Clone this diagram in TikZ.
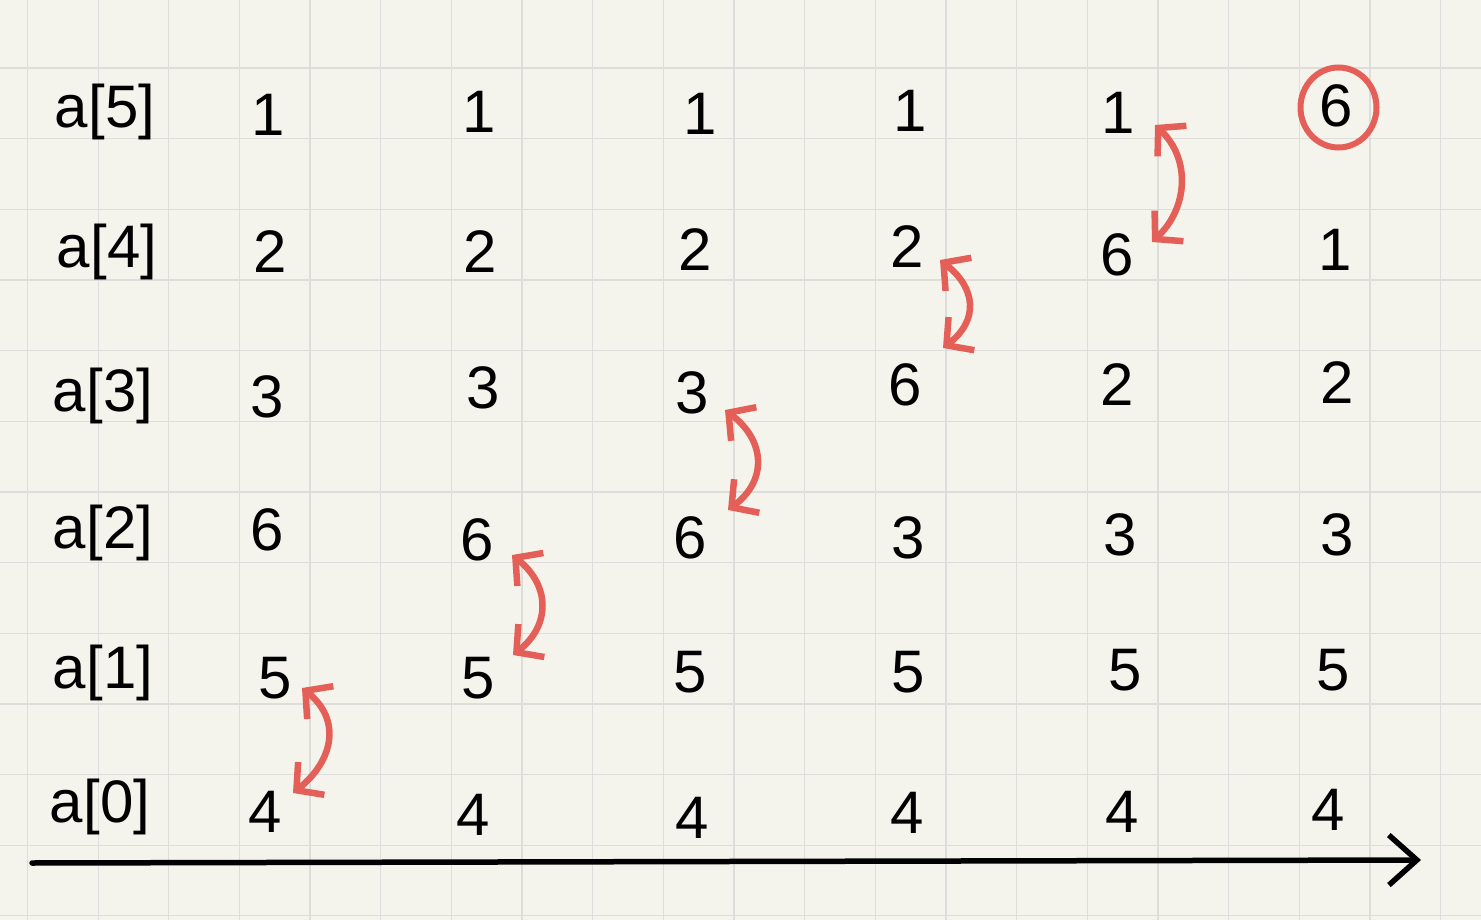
\documentclass[tikz,border=0pt]{standalone}
\usepackage{fontspec}
\setmainfont{Liberation Sans}
\usetikzlibrary{arrows.meta,shapes.geometric}
\definecolor{paper}{HTML}{F5F4EC}
\definecolor{gridc}{HTML}{DDDDDB}
\definecolor{pen}{HTML}{E35F58}
\begin{document}
\begin{tikzpicture}[x=1pt,y=-1pt,
  hand/.style={font=\fontsize{60}{60}\selectfont, inner sep=0pt, text=black},
  lbl/.style={hand, anchor=base},
  swapline/.style={draw=pen, line width=6.5pt, line cap=round, line join=round,
    {Straight Barb[length=19pt,width=42pt]}-{Straight Barb[length=19pt,width=42pt]}},
  gridline/.style={draw=gridc, line width=1.3pt},
  axisline/.style={draw=black, line width=5.5pt, line cap=round, line join=round,
    -{Straight Barb[length=28pt,width=50pt]}},
  ring/.style={draw=pen, line width=6pt}]
% paper and grid
\fill[paper] (0,0) rectangle (1481,920);
\useasboundingbox (0,0) rectangle (1481,920);
\foreach \i in {0,...,20} \draw[gridline] (27.5+70.65*\i,0) -- (27.5+70.65*\i,920);
\foreach \j in {0,...,12} \draw[gridline] (0,68+70.65*\j) -- (1481,68+70.65*\j);
% row labels
\node[lbl] (l5) at (105,128) {a[5]};
\node[lbl] (l4) at (107,268) {a[4]};
\node[lbl] (l3) at (103,411) {a[3]};
\node[lbl] (l2) at (103,548) {a[2]};
\node[lbl] (l1) at (103,688) {a[1]};
\node[lbl] (l0) at (100,822) {a[0]};
% column 1
\node[hand] (c1r5) at (268,115) {1};
\node[hand] (c1r4) at (270,252) {2};
\node[hand] (c1r3) at (267,397) {3};
\node[hand] (c1r2) at (267,530) {6};
\node[hand] (c1r1) at (275,678) {5};
\node[hand] (c1r0) at (265,812) {4};
% column 2
\node[hand] (c2r5) at (479,112) {1};
\node[hand] (c2r4) at (480,252) {2};
\node[hand] (c2r3) at (483,388) {3};
\node[hand] (c2r2) at (477,540) {6};
\node[hand] (c2r1) at (478,678) {5};
\node[hand] (c2r0) at (473,815) {4};
% column 3
\node[hand] (c3r5) at (700,114) {1};
\node[hand] (c3r4) at (695,250) {2};
\node[hand] (c3r3) at (692,393) {3};
\node[hand] (c3r2) at (690,538) {6};
\node[hand] (c3r1) at (690,672) {5};
\node[hand] (c3r0) at (692,818) {4};
% column 4
\node[hand] (c4r5) at (910,111) {1};
\node[hand] (c4r4) at (907,247) {2};
\node[hand] (c4r3) at (905,385) {6};
\node[hand] (c4r2) at (908,538) {3};
\node[hand] (c4r1) at (908,672) {5};
\node[hand] (c4r0) at (907,813) {4};
% column 5
\node[hand] (c5r5) at (1118,113) {1};
\node[hand] (c5r4) at (1117,255) {6};
\node[hand] (c5r3) at (1117,385) {2};
\node[hand] (c5r2) at (1120,535) {3};
\node[hand] (c5r1) at (1125,670) {5};
\node[hand] (c5r0) at (1122,812) {4};
% column 6
\node[hand] (c6r5) at (1336,106) {6};
\node[hand] (c6r4) at (1335,250) {1};
\node[hand] (c6r3) at (1337,383) {2};
\node[hand] (c6r2) at (1337,535) {3};
\node[hand] (c6r1) at (1333,670) {5};
\node[hand] (c6r0) at (1328,810) {4};
% circle around the final 6
\node[ring, ellipse, minimum width=76pt, minimum height=80pt, inner sep=0pt] (done) at (1338.5,107.5) {};
% swap arrows
\coordinate (s1t) at (302,688);  \coordinate (s1b) at (293,793);
\coordinate (s2t) at (512,555);  \coordinate (s2b) at (513,655);
\coordinate (s3t) at (725,410);  \coordinate (s3b) at (728,510);
\coordinate (s4t) at (940,260);  \coordinate (s4b) at (943,348);
\coordinate (s5t) at (1155,125); \coordinate (s5b) at (1152,242);
\draw[swapline] (s1t) .. controls +(40,32) and +(40,-32) .. (s1b);
\draw[swapline] (s2t) .. controls +(38,30) and +(38,-30) .. (s2b);
\draw[swapline] (s3t) .. controls +(40,30) and +(40,-30) .. (s3b);
\draw[swapline] (s4t) .. controls +(36,28) and +(36,-28) .. (s4b);
\draw[swapline] (s5t) .. controls +(36,34) and +(36,-34) .. (s5b);
% time axis
\coordinate (ax0) at (32,863);
\coordinate (ax1) at (1421,860);
\draw[axisline] (ax0) -- (ax1);
\end{tikzpicture}
\end{document}
